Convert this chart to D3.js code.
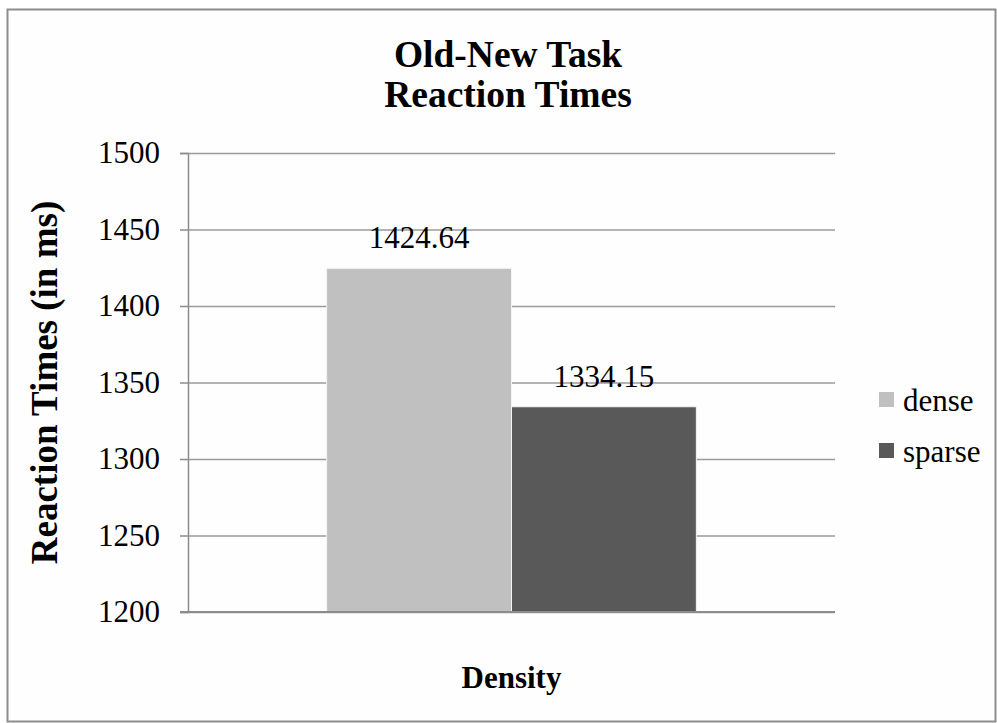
<!DOCTYPE html>
<html>
<head>
<meta charset="utf-8">
<script src="https://cdn.jsdelivr.net/npm/d3@7"></script>
<style>
  body { margin: 0; background: #ffffff; }
  svg { display: block; }
  text { font-family: "Liberation Serif", "Times New Roman", serif; fill: #000; }
</style>
</head>
<body>
<svg></svg>
<script>
var categories = ["Density"];
var seriesNames = ["dense", "sparse"];
var seriesValues = [1424.64, 1334.15];
var seriesColors = ["#c0c0c0", "#595959"];
var yTicks = [1200, 1250, 1300, 1350, 1400, 1450, 1500];
var titleLines = ["Old-New Task", "Reaction Times"];

// note: "top" is taken by window.top, so plot edges get a prefix
var w = 997,
    h = 723,
    plotLeft = 188,
    plotRight = 835,
    plotTop = 153,
    plotBottom = 612,
    serif = "'Liberation Serif', 'Times New Roman', serif";

var svg = d3.select("svg")
  .attr("width", w)
  .attr("height", h)
  .style("background-color", "#ffffff");

// outer frame
svg.append("rect")
  .attr("x", 7.5)
  .attr("y", 9.5)
  .attr("width", 988)
  .attr("height", 712)
  .attr("fill", "#fefefe")
  .attr("stroke", "#8c8c8c")
  .attr("stroke-width", 2);

var y = d3.scaleLinear()
  .domain([1200, 1500])
  .range([plotBottom, plotTop]);

var x0 = d3.scaleBand()
  .domain(categories)
  .range([plotLeft, plotRight]);

var x1 = d3.scaleBand()
  .domain(seriesNames)
  .range([0, x0.bandwidth()])
  .paddingInner(0)
  .paddingOuter(0.75);

// gridlines
svg.append("g")
  .attr("transform", "translate(" + plotLeft + ",0)")
  .call(d3.axisLeft(y).tickValues(yTicks).tickSize(-(plotRight - plotLeft)).tickFormat(""))
  .call(function (g) { g.select(".domain").remove(); })
  .selectAll("line")
  .attr("stroke", "#9a9a9a")
  .attr("stroke-width", 1.5);

// bars
var gCat = svg.selectAll("g.cat")
  .data(categories)
  .join("g")
  .attr("class", "cat")
  .attr("transform", function (d) { return "translate(" + x0(d) + ",0)"; });

gCat.selectAll("rect")
  .data(seriesNames)
  .join("rect")
  .attr("x", function (d) { return x1(d); })
  .attr("y", function (d, i) { return y(seriesValues[i]); })
  .attr("width", x1.bandwidth())
  .attr("height", function (d, i) { return plotBottom - y(seriesValues[i]); })
  .attr("fill", function (d, i) { return seriesColors[i]; })
  .attr("stroke", "#f4f4f4")
  .attr("stroke-width", 1);

gCat.selectAll("text.val")
  .data(seriesNames)
  .join("text")
  .attr("class", "val")
  .attr("x", function (d) { return x1(d) + x1.bandwidth() / 2; })
  .attr("y", function (d, i) { return y(seriesValues[i]) - 20; })
  .attr("text-anchor", "middle")
  .style("font-family", serif)
  .style("font-size", "31px")
  .text(function (d, i) { return seriesValues[i].toFixed(2); });

// y axis
var yAxis = svg.append("g")
  .attr("transform", "translate(" + plotLeft + ",0)")
  .call(d3.axisLeft(y).tickValues(yTicks).tickSize(8).tickPadding(20).tickFormat(d3.format("d")))
  .attr("font-family", serif);
yAxis.select(".domain").attr("stroke", "#8c8c8c").attr("stroke-width", 1.5);
yAxis.selectAll("line").attr("stroke", "#8c8c8c").attr("stroke-width", 1.5);
yAxis.selectAll("text")
  .style("font-family", serif)
  .style("font-size", "31px")
  .attr("fill", "#000");

// baseline
svg.append("line")
  .attr("x1", plotLeft - 8)
  .attr("x2", plotRight)
  .attr("y1", y(1200))
  .attr("y2", y(1200))
  .attr("stroke", "#8c8c8c")
  .attr("stroke-width", 2);

// titles
svg.selectAll("text.title")
  .data(titleLines)
  .join("text")
  .attr("class", "title")
  .attr("x", 508)
  .attr("y", function (d, i) { return 67 + i * 40; })
  .attr("text-anchor", "middle")
  .style("font-family", serif)
  .style("font-size", "37.5px")
  .style("font-weight", "bold")
  .text(function (d) { return d; });

svg.append("text")
  .attr("transform", "translate(57," + ((plotTop + plotBottom) / 2) + ") rotate(-90)")
  .attr("text-anchor", "middle")
  .style("font-family", serif)
  .style("font-size", "37px")
  .style("font-weight", "bold")
  .text("Reaction Times (in ms)");

svg.append("text")
  .attr("x", x0("Density") + x0.bandwidth() / 2)
  .attr("y", 688)
  .attr("text-anchor", "middle")
  .style("font-family", serif)
  .style("font-size", "31px")
  .style("font-weight", "bold")
  .text(categories[0]);

// legend
var legend = svg.selectAll("g.legend")
  .data(seriesNames)
  .join("g")
  .attr("class", "legend")
  .attr("transform", function (d, i) { return "translate(879," + (392 + i * 51) + ")"; });

legend.append("rect")
  .attr("width", 15)
  .attr("height", 15)
  .attr("fill", function (d, i) { return seriesColors[i]; });

legend.append("text")
  .attr("x", 24)
  .attr("y", 19)
  .style("font-family", serif)
  .style("font-size", "31px")
  .text(function (d) { return d; });
</script>
</body>
</html>
